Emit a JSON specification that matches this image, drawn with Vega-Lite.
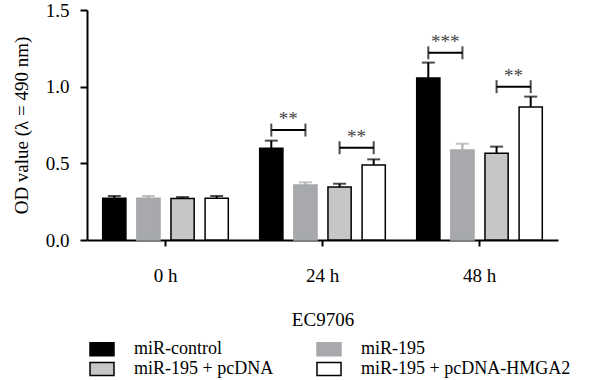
{
  "$schema": "https://vega.github.io/schema/vega-lite/v6.json",
  "width": 471,
  "height": 230,
  "padding": {"left": 12, "top": 1, "right": 5, "bottom": 0},
  "config": {
    "font": "Liberation Serif",
    "view": {"stroke": null},
    "axis": {"labelColor": "#000", "titleColor": "#000", "domainColor": "#000", "tickColor": "#000", "domainWidth": 2, "tickWidth": 2, "labelFontSize": 19, "titleFontSize": 19, "titleFontWeight": "normal", "grid": false}
  },
  "datasets": {
    "bars": [
      {"time": "0 h", "group": "miR-control", "value": 0.272, "hi": 0.287},
      {"time": "0 h", "group": "miR-195", "value": 0.272, "hi": 0.287},
      {"time": "0 h", "group": "miR-195 + pcDNA", "value": 0.27, "hi": 0.28},
      {"time": "0 h", "group": "miR-195 + pcDNA-HMGA2", "value": 0.272, "hi": 0.287},
      {"time": "24 h", "group": "miR-control", "value": 0.598, "hi": 0.648},
      {"time": "24 h", "group": "miR-195", "value": 0.359, "hi": 0.376},
      {"time": "24 h", "group": "miR-195 + pcDNA", "value": 0.346, "hi": 0.367},
      {"time": "24 h", "group": "miR-195 + pcDNA-HMGA2", "value": 0.489, "hi": 0.526},
      {"time": "48 h", "group": "miR-control", "value": 1.057, "hi": 1.157},
      {"time": "48 h", "group": "miR-195", "value": 0.587, "hi": 0.628},
      {"time": "48 h", "group": "miR-195 + pcDNA", "value": 0.565, "hi": 0.609},
      {"time": "48 h", "group": "miR-195 + pcDNA-HMGA2", "value": 0.868, "hi": 0.935}
    ],
    "brackets": [
      {"id": "a", "time": "24 h", "group": "miR-control", "y": 0.717},
      {"id": "a", "time": "24 h", "group": "miR-195", "y": 0.717},
      {"id": "b", "time": "24 h", "group": "miR-195 + pcDNA", "y": 0.602},
      {"id": "b", "time": "24 h", "group": "miR-195 + pcDNA-HMGA2", "y": 0.602},
      {"id": "c", "time": "48 h", "group": "miR-control", "y": 1.221},
      {"id": "c", "time": "48 h", "group": "miR-195", "y": 1.221},
      {"id": "d", "time": "48 h", "group": "miR-195 + pcDNA", "y": 1.0},
      {"id": "d", "time": "48 h", "group": "miR-195 + pcDNA-HMGA2", "y": 1.0}
    ],
    "stars": [
      {"time": "24 h", "group": "miR-control", "y": 0.717, "label": "**"},
      {"time": "24 h", "group": "miR-195 + pcDNA", "y": 0.602, "label": "**"},
      {"time": "48 h", "group": "miR-control", "y": 1.221, "label": "***"},
      {"time": "48 h", "group": "miR-195 + pcDNA", "y": 1.0, "label": "**"}
    ]
  },
  "encoding": {
    "x": {
      "field": "time", "type": "nominal", "sort": ["0 h", "24 h", "48 h"],
      "scale": {"paddingInner": 0.2, "paddingOuter": 0.1},
      "axis": {"title": "EC9706", "labelAngle": 0, "tickSize": 6, "labelPadding": 20, "titlePadding": 25}
    },
    "xOffset": {
      "field": "group", "type": "nominal",
      "sort": ["miR-control", "miR-195", "miR-195 + pcDNA", "miR-195 + pcDNA-HMGA2"],
      "scale": {"paddingInner": 0.32, "paddingOuter": 0}
    }
  },
  "layer": [
    {
      "data": {"name": "bars"},
      "mark": {"type": "bar", "strokeWidth": 1.5},
      "encoding": {
        "y": {
          "field": "value", "type": "quantitative",
          "scale": {"domain": [0, 1.5], "nice": false},
          "axis": {"title": "OD value (λ = 490 nm)", "values": [0, 0.5, 1, 1.5], "format": ".1f", "tickSize": 7, "labelPadding": 11, "titlePadding": 14}
        },
        "fill": {
          "field": "group", "type": "nominal",
          "scale": {"domain": ["miR-control", "miR-195", "miR-195 + pcDNA", "miR-195 + pcDNA-HMGA2"], "range": ["#000000", "#a7a9ac", "#c6c6c6", "#ffffff"]},
          "legend": {"title": null, "orient": "none", "direction": "horizontal", "legendX": 6, "legendY": 330, "columns": 2, "columnPadding": 40, "rowPadding": 0, "labelFontSize": 18, "labelLimit": 400, "labelColor": "#000", "symbolType": "M-1.6,-0.87L1.6,-0.87L1.6,0.87L-1.6,0.87Z", "symbolSize": 225, "symbolStrokeWidth": 1.5, "labelOffset": 23}
        },
        "stroke": {
          "field": "group", "type": "nominal",
          "scale": {"domain": ["miR-control", "miR-195", "miR-195 + pcDNA", "miR-195 + pcDNA-HMGA2"], "range": ["#000000", "#a7a9ac", "#000000", "#000000"]},
          "legend": {"title": null, "orient": "none", "direction": "horizontal", "legendX": 6, "legendY": 330, "columns": 2, "columnPadding": 40, "rowPadding": 0, "labelFontSize": 18, "labelLimit": 400, "labelColor": "#000", "symbolType": "M-1.6,-0.87L1.6,-0.87L1.6,0.87L-1.6,0.87Z", "symbolSize": 225, "symbolStrokeWidth": 1.5, "labelOffset": 23}
        }
      }
    },
    {
      "data": {"name": "bars"},
      "mark": {"type": "rule", "strokeWidth": 2},
      "encoding": {
        "y": {"field": "value", "type": "quantitative"},
        "y2": {"field": "hi"},
        "color": {"condition": {"test": "datum.group === 'miR-195'", "value": "#a7a9ac"}, "value": "#000000"}
      }
    },
    {
      "data": {"name": "bars"},
      "mark": {"type": "tick", "size": 13, "thickness": 2},
      "encoding": {
        "y": {"field": "hi", "type": "quantitative"},
        "color": {"condition": {"test": "datum.group === 'miR-195'", "value": "#a7a9ac"}, "value": "#000000"}
      }
    },
    {
      "data": {"name": "brackets"},
      "mark": {"type": "line", "strokeWidth": 2, "color": "#000"},
      "encoding": {
        "y": {"field": "y", "type": "quantitative"},
        "detail": {"field": "id"}
      }
    },
    {
      "data": {"name": "brackets"},
      "mark": {"type": "tick", "orient": "vertical", "size": 13, "thickness": 2, "color": "#000"},
      "encoding": {
        "y": {"field": "y", "type": "quantitative"}
      }
    },
    {
      "data": {"name": "stars"},
      "mark": {"type": "text", "dx": 17, "dy": -11, "fontSize": 19, "color": "#444", "baseline": "middle"},
      "encoding": {
        "y": {"field": "y", "type": "quantitative"},
        "text": {"field": "label"}
      }
    }
  ]
}
